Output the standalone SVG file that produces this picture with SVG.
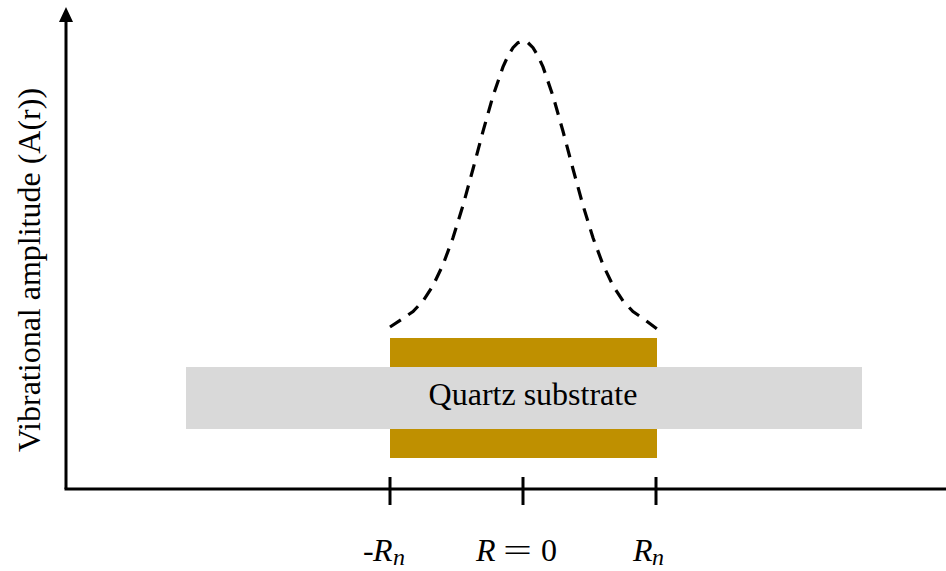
<svg xmlns="http://www.w3.org/2000/svg" width="946" height="571" viewBox="0 0 946 571">
<style>
.ax{stroke:#000;stroke-width:3;fill:none}
.gold{fill:#BF9000}
.t{font-family:"Liberation Serif","DejaVu Serif",serif;fill:#000}
.m{font-family:"Liberation Serif","DejaVu Serif",serif;font-size:32px;fill:#000}
.i{font-style:italic}
.s{font-style:italic;font-size:24px}
</style>
<rect width="946" height="571" fill="#fff"/>
<g id="connectors">
<line class="ax" x1="66" y1="20" x2="66" y2="489"/>
<polygon points="66,7 59,22 73,22" fill="#000"/>
<line class="ax" x1="64.5" y1="489" x2="946" y2="489"/>
<line class="ax" x1="390" y1="477" x2="390" y2="505"/>
<line class="ax" x1="523" y1="477" x2="523" y2="505"/>
<line class="ax" x1="656" y1="477" x2="656" y2="505"/>
</g>
<g id="substrate">
<rect x="186" y="367" width="676" height="62" fill="#D9D9D9"/>
<text class="t" x="533" y="405" font-size="32" text-anchor="middle">Quartz substrate</text>
</g>
<g id="electrode-top"><rect class="gold" x="390" y="338" width="267" height="29"/></g>
<g id="electrode-bottom"><rect class="gold" x="390" y="429" width="267" height="29"/></g>
<g id="curve">
<path d="M390,327 L403,318.4 L413,311.6 L423,301 L433,285.7 L443,264.7 L453,237.8 L463,205.4 L473,169 L483,131.3 L493,96 L503,66.9 L508,55.9 L513,47.7 L518,42.7 L523,41 L528,42.7 L533,47.7 L538,55.9 L543,66.9 L553,96 L563,131.3 L573,169 L583,205.4 L593,237.8 L603,264.7 L613,285.7 L623,301 L633,311.6 L643,318.4 L657,329" fill="none" stroke="#000" stroke-width="3.2" stroke-dasharray="13 9"/>
</g>
<g id="ylabel">
<text class="t" font-size="32" text-anchor="middle" transform="translate(40,270) rotate(-90)">Vibrational amplitude (A(r))</text>
</g>
<g id="labels">
<text class="m" x="363" y="561">-</text>
<text class="m i" x="373" y="561">R</text>
<text class="m s" x="393" y="565">n</text>
<text class="m i" x="476" y="561">R</text>
<text class="m" x="503" y="561" textLength="29" lengthAdjust="spacingAndGlyphs">=</text>
<text class="m" x="541" y="561">0</text>
<text class="m i" x="633" y="561">R</text>
<text class="m s" x="652" y="565">n</text>
</g>
</svg>
